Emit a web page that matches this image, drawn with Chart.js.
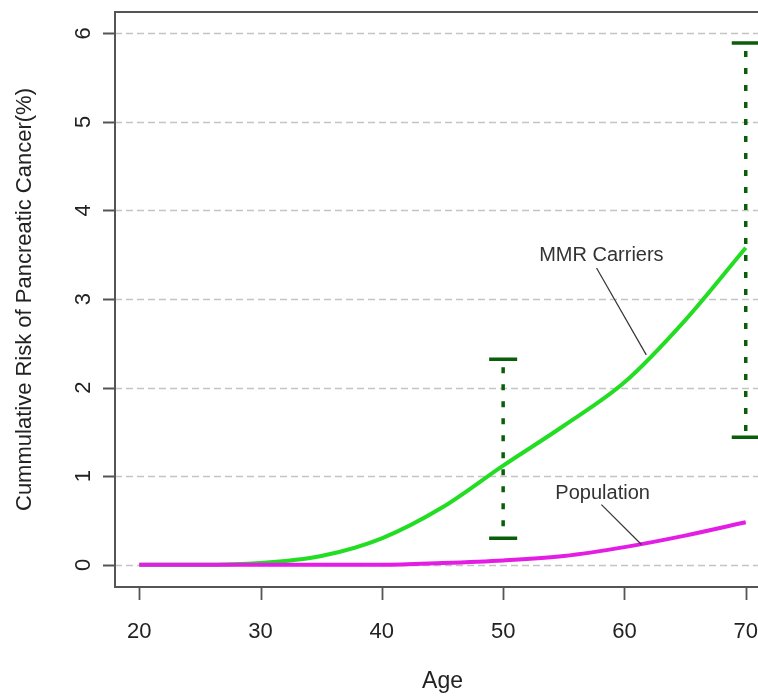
<!DOCTYPE html>
<html>
<head>
<meta charset="utf-8">
<script src="https://cdn.jsdelivr.net/npm/chart.js@4.4.1/dist/chart.umd.min.js"></script>
<style>
html,body{margin:0;padding:0;background:#fff;overflow:hidden;width:758px;height:696px;}
#wrap{width:772px;height:696px;}
</style>
</head>
<body>
<div id="wrap"><canvas id="c" width="772" height="696"></canvas></div>
<script>
// ---- data ----
const ages = [20, 25, 30, 35, 40, 45, 50, 55, 60, 65, 70];
const mmrCarriers = [0, 0, 0.02, 0.1, 0.3, 0.65, 1.12, 1.57, 2.06, 2.76, 3.58];
const population = [0, 0, 0, 0, 0, 0.02, 0.05, 0.1, 0.2, 0.33, 0.48];
const errAges = [50, 70];
const errLow = [0.3, 1.44];
const errHigh = [2.32, 5.89];
const xTicks = [20, 30, 40, 50, 60, 70];
const yTicks = [0, 1, 2, 3, 4, 5, 6];
const labelTexts = ['MMR Carriers', 'Population'];
const labelPos = [[58.1, 3.49], [58.2, 0.80]];
const leaderFrom = [[57.7, 3.35], [58.1, 0.68]];
const leaderTo = [[61.8, 2.37], [61.4, 0.23]];

const FONT = "'Liberation Sans', Arial, Helvetica, sans-serif";

const decor = {
  id: 'decor',
  beforeDatasetsDraw(chart) {
    const {ctx, chartArea: a, scales: {y}} = chart;
    ctx.save();
    ctx.strokeStyle = '#c4c4c4';
    ctx.lineWidth = 1.5;
    ctx.setLineDash([7, 4]);
    yTicks.forEach(v => {
      const py = Math.round(y.getPixelForValue(v)) + 0.5;
      ctx.beginPath(); ctx.moveTo(a.left, py); ctx.lineTo(a.right, py); ctx.stroke();
    });
    ctx.restore();
  },
  afterDatasetsDraw(chart) {
    const {ctx, scales: {x, y}} = chart;
    ctx.save();
    // error bars
    ctx.strokeStyle = '#0a5e0a';
    errAges.forEach((ag, i) => {
      const px = x.getPixelForValue(ag);
      const pl = y.getPixelForValue(errLow[i]);
      const ph = y.getPixelForValue(errHigh[i]);
      ctx.lineWidth = 3.5;
      ctx.setLineDash([6, 11]);
      ctx.beginPath(); ctx.moveTo(px, ph + 8); ctx.lineTo(px, pl); ctx.stroke();
      ctx.setLineDash([]);
      ctx.lineWidth = 3.5;
      ctx.beginPath();
      ctx.moveTo(px - 14, ph); ctx.lineTo(px + 14, ph);
      ctx.moveTo(px - 14, pl); ctx.lineTo(px + 14, pl);
      ctx.stroke();
    });
    // leader lines
    ctx.strokeStyle = '#333';
    ctx.lineWidth = 1.2;
    leaderFrom.forEach((f, i) => {
      const t = leaderTo[i];
      ctx.beginPath();
      ctx.moveTo(x.getPixelForValue(f[0]), y.getPixelForValue(f[1]));
      ctx.lineTo(x.getPixelForValue(t[0]), y.getPixelForValue(t[1]));
      ctx.stroke();
    });
    // labels
    ctx.fillStyle = '#333';
    ctx.font = '20px ' + FONT;
    ctx.textAlign = 'center';
    ctx.textBaseline = 'middle';
    labelTexts.forEach((s, i) => {
      ctx.fillText(s, x.getPixelForValue(labelPos[i][0]), y.getPixelForValue(labelPos[i][1]));
    });
    ctx.restore();
  },
  afterDraw(chart) {
    const {ctx, chartArea: a, scales: {x, y}} = chart;
    ctx.save();
    ctx.strokeStyle = '#555';
    ctx.lineWidth = 2;
    ctx.beginPath();
    ctx.moveTo(a.right, a.top); ctx.lineTo(a.left, a.top);
    ctx.lineTo(a.left, a.bottom); ctx.lineTo(a.right, a.bottom);
    ctx.stroke();
    ctx.lineWidth = 1.8;
    ctx.beginPath();
    yTicks.forEach(v => {
      const py = Math.round(y.getPixelForValue(v)) + 0.5;
      ctx.moveTo(a.left - 12, py); ctx.lineTo(a.left, py);
    });
    xTicks.forEach(v => {
      const px = Math.round(x.getPixelForValue(v)) + 0.5;
      ctx.moveTo(px, a.bottom); ctx.lineTo(px, a.bottom + 13);
    });
    ctx.stroke();
    ctx.restore();
  }
};

function zeroPad(s) { s.paddingTop = 0; s.paddingBottom = 0; s.paddingLeft = 0; s.paddingRight = 0; }

new Chart(document.getElementById('c'), {
  type: 'line',
  data: {
    labels: ages,
    datasets: [
      {
        label: 'Population',
        data: ages.map((a, i) => ({x: a, y: population[i]})),
        borderColor: '#e41de4',
        borderWidth: 4,
        pointRadius: 0,
        tension: 0.4,
        cubicInterpolationMode: 'monotone',
        order: 1
      },
      {
        label: 'MMR Carriers',
        data: ages.map((a, i) => ({x: a, y: mmrCarriers[i]})),
        borderColor: '#22dd22',
        borderWidth: 4,
        pointRadius: 0,
        tension: 0.4,
        cubicInterpolationMode: 'monotone',
        order: 2
      }
    ]
  },
  options: {
    responsive: false,
    animation: false,
    events: [],
    layout: {padding: {top: 12, right: 2, left: 0, bottom: 0}},
    plugins: {legend: {display: false}, tooltip: {enabled: false}},
    scales: {
      x: {
        type: 'linear',
        min: 18, max: 72,
        afterFit: s => { s.height = 109; zeroPad(s); },
        afterBuildTicks: s => { s.ticks = xTicks.map(v => ({value: v})); },
        grid: {display: false},
        border: {display: false},
        ticks: {autoSkip: false, maxRotation: 0, padding: 24, color: '#222', font: {family: FONT, size: 22}},
        title: {display: true, text: 'Age', color: '#222', font: {family: FONT, size: 23}, padding: {top: 0, bottom: 1}}
      },
      y: {
        min: -0.25, max: 6.24,
        afterFit: s => { s.width = 115; zeroPad(s); },
        afterBuildTicks: s => { s.ticks = yTicks.map(v => ({value: v})); },
        grid: {display: false},
        border: {display: false},
        ticks: {autoSkip: false, minRotation: 90, maxRotation: 90, crossAlign: 'center', padding: 17, color: '#222', font: {family: FONT, size: 22}},
        title: {display: true, text: 'Cummulative Risk of Pancreatic Cancer(%)', color: '#222', font: {family: FONT, size: 22}, padding: {top: 12, bottom: 12}}
      }
    }
  },
  plugins: [decor]
});
</script>
</body>
</html>
